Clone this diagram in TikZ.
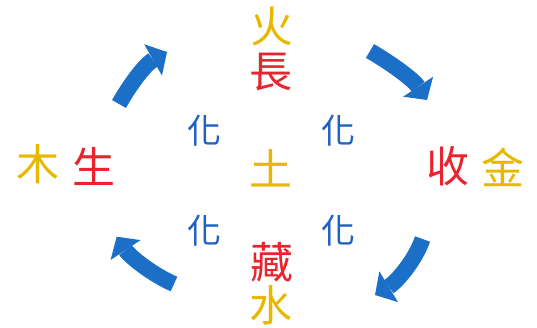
\documentclass[tikz,border=0pt]{standalone}
\usepackage{fontspec}
\newfontfamily\cjk{Noto Sans CJK TC}
\usetikzlibrary{arrows.meta}
\definecolor{gold}{HTML}{E6B800}
\definecolor{wred}{HTML}{E8252E}
\definecolor{hblue}{HTML}{2161C2}
\definecolor{abl}{HTML}{1B6FC6}
\tikzset{
  big/.style={inner sep=0pt, font=\cjk\fontsize{43}{43}\selectfont},
  el/.style={big, text=gold},
  ph/.style={big, text=wred},
  hua/.style={inner sep=0pt, text=hblue, font=\cjk\fontsize{34}{34}\selectfont},
  cyc/.style={draw=abl, line width=16pt,
    -{Triangle[length=16pt,width=36pt,line width=0pt,fill=abl]}}
}
\begin{document}
\begin{tikzpicture}[x=1pt,y=-1pt]
\useasboundingbox (0,0) rectangle (537,327);
% elements and phases
\node[el] (huo) at (272,26) {火};
\node[ph] (zhang) at (271,72) {長};
\node[el] (mu) at (38,164) {木};
\node[ph] (sheng) at (94,166) {生};
\node[ph] (shou) at (448,166) {收};
\node[el] (jin) at (503,167) {金};
\node[el] (tu) at (271,168) {土};
\node[ph] (cang) at (272,262) {藏};
\node[el] (shui) at (271,305) {水};
% transformations
\node[hua] (h1) at (204,131) {化};
\node[hua] (h2) at (338,131) {化};
\node[hua] (h3) at (204,231) {化};
\node[hua] (h4) at (338,231) {化};
% arrow anchors
\coordinate (a1s) at (119,104);
\coordinate (a1e) at (167,52);
\coordinate (a2s) at (370,51);
\coordinate (a2e) at (427,100);
\coordinate (a3s) at (422.5,239);
\coordinate (a3e) at (375,295);
\coordinate (a4s) at (174,284);
\coordinate (a4e) at (116.7,236.7);
\draw[cyc] (a1s) .. controls (129.8,84.6) and (145.3,64.3) .. (a1e);
\draw[cyc] (a2s) .. controls (389,62) and (413,79) .. (a2e);
\draw[cyc] (a3s) .. controls (415.5,260) and (396.5,282) .. (a3e);
\draw[cyc] (a4s) .. controls (154,275.4) and (130.5,257.5) .. (a4e);
\end{tikzpicture}
\end{document}
